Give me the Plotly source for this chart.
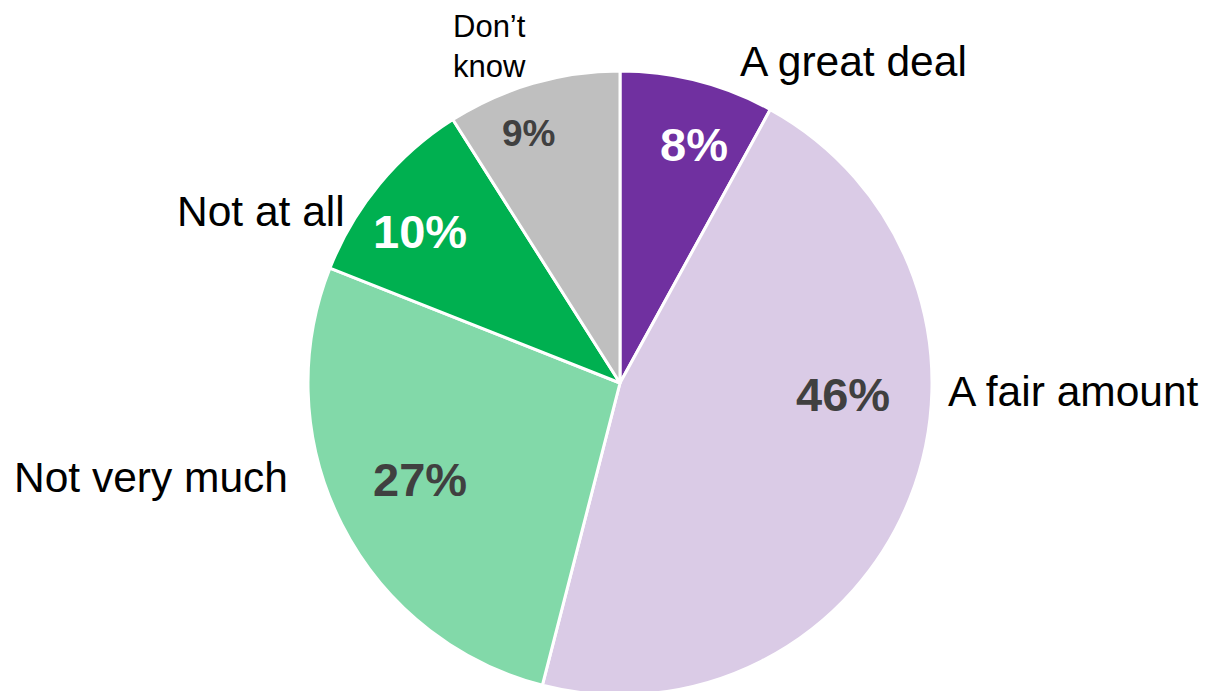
import plotly.graph_objects as go

# ---- data ----
categories = ["A great deal", "A fair amount", "Not very much", "Not at all", "Don\u2019t know"]
values = [8, 46, 27, 10, 9]
colors = ["#7030A0", "#DACBE6", "#82D9A9", "#00B050", "#BFBFBF"]

# ---- layout helpers (pixel positions in the 1207x691 page) ----
W, H = 1207, 691
OFF = 8  # default page body margin offsets the figure by 8px
cx, cy, r = 620 - OFF, 383 - OFF, 312

pct_pos = [(694, 145), (843, 395), (420, 480), (420, 232), (528, 133)]
pct_size = [47, 47, 47, 47, 37]
pct_color = ["#FFFFFF", "#404040", "#404040", "#FFFFFF", "#404040"]

cat_pos = [(738, 61, "left"), (946, 391, "left"), (290, 477, "right"), (347, 211, "right"), (451, 46, "left")]
cat_size = [42.5, 42.5, 42.5, 42.5, 31]
cat_text = ["A great deal", "A fair amount", "Not very much", "Not at all", "Don\u2019t<br>know"]

fig = go.Figure(go.Pie(
    labels=categories,
    values=values,
    sort=False,
    direction="clockwise",
    rotation=0,
    marker=dict(colors=colors, line=dict(color="white", width=3)),
    textinfo="none",
    hoverinfo="label+percent",
    domain=dict(x=[(cx - r) / W, (cx + r) / W], y=[(H - cy - r) / H, (H - cy + r) / H]),
    showlegend=False,
))

annotations = []
for v, (px, py), s, c in zip(values, pct_pos, pct_size, pct_color):
    annotations.append(dict(
        x=(px - OFF) / W, y=1 - (py - OFF) / H, xref="paper", yref="paper",
        text=f"<b>{v}%</b>", showarrow=False, xanchor="center", yanchor="middle",
        font=dict(family="Liberation Sans, Arial, sans-serif", size=s, color=c),
    ))
for t, (px, py, al), s in zip(cat_text, cat_pos, cat_size):
    annotations.append(dict(
        x=(px - OFF) / W, y=1 - (py - OFF) / H, xref="paper", yref="paper",
        text=t, showarrow=False, xanchor=al, yanchor="middle", align="left",
        font=dict(family="Liberation Sans, Arial, sans-serif", size=s, color="#000000"),
    ))

fig.update_layout(
    width=W, height=H,
    margin=dict(l=0, r=0, t=0, b=0),
    paper_bgcolor="white", plot_bgcolor="white",
    annotations=annotations,
)

fig.write_html("out.html")
